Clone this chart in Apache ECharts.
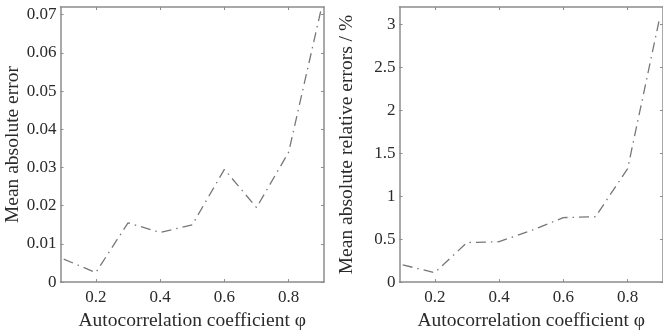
<!DOCTYPE html>
<html>
<head>
<meta charset="utf-8">
<script src="https://cdn.jsdelivr.net/npm/echarts@6/dist/echarts.min.js"></script>
<style>
  html, body { margin: 0; padding: 0; background: #fff; }
  #chart { width: 663px; height: 336px; }
</style>
</head>
<body>
<div id="chart"></div>
<script>
const phi = [0.1, 0.2, 0.3, 0.4, 0.5, 0.6, 0.7, 0.8, 0.9];
const mae = [0.006, 0.0025, 0.0155, 0.013, 0.015, 0.0295, 0.0195, 0.034, 0.071];
const mare = [0.2, 0.11, 0.46, 0.47, 0.6, 0.75, 0.76, 1.32, 3.08];

const xTicks = [0.2, 0.4, 0.6, 0.8];
const maeTicks = [0, 0.01, 0.02, 0.03, 0.04, 0.05, 0.06, 0.07];
const mareTicks = [0, 0.5, 1, 1.5, 2, 2.5, 3];

const xName = 'Autocorrelation coefficient φ';
const maeName = 'Mean absolute error';
const mareName = 'Mean absolute relative errors / %';

const FONT = 'Liberation Serif';
const AXIS_COLOR = '#8c8c8c';
const TEXT_COLOR = '#2a2a2a';

const chart = echarts.init(document.getElementById('chart'));

// box style axis: line + inward ticks
const boxLine = { show: true, onZero: false, lineStyle: { color: AXIS_COLOR, width: 1.5 } };
const tick = (vals) => ({ show: true, inside: true, length: 3, customValues: vals, lineStyle: { color: AXIS_COLOR, width: 1 } });

const xAxes = [];
const yAxes = [];
const series = [];
const panels = [
  { data: mae, yMax: 0.072, yTicks: maeTicks, yName: maeName, nameGap: 33 },
  { data: mare, yMax: 3.2, yTicks: mareTicks, yName: mareName, nameGap: 43 }
];

panels.forEach((p, i) => {
  xAxes.push({
    type: 'value', gridIndex: i, position: 'bottom',
    min: 0.09, max: 0.91,
    name: xName, nameLocation: 'middle', nameGap: 20,
    nameTextStyle: { fontFamily: FONT, fontSize: 19.5, color: TEXT_COLOR },
    axisLine: boxLine, axisTick: tick(xTicks),
    axisLabel: { customValues: xTicks, fontFamily: FONT, fontSize: 17, color: TEXT_COLOR, margin: 7 },
    splitLine: { show: false }
  });
  xAxes.push({
    type: 'value', gridIndex: i, position: 'top',
    min: 0.09, max: 0.91,
    axisLine: boxLine, axisTick: tick(xTicks),
    axisLabel: { show: false }, splitLine: { show: false }
  });
  yAxes.push({
    type: 'value', gridIndex: i, position: 'left',
    min: 0, max: p.yMax,
    name: p.yName, nameLocation: 'middle', nameGap: p.nameGap,
    nameTextStyle: { fontFamily: FONT, fontSize: 19.5, color: TEXT_COLOR },
    axisLine: boxLine, axisTick: tick(p.yTicks),
    axisLabel: { customValues: p.yTicks, fontFamily: FONT, fontSize: 17, color: TEXT_COLOR, margin: 4 },
    splitLine: { show: false }
  });
  yAxes.push({
    type: 'value', gridIndex: i, position: 'right',
    min: 0, max: p.yMax,
    axisLine: boxLine, axisTick: tick(p.yTicks),
    axisLabel: { show: false }, splitLine: { show: false }
  });
  series.push({
    type: 'line',
    xAxisIndex: i * 2, yAxisIndex: i * 2,
    data: phi.map((x, k) => [x, p.data[k]]),
    symbol: 'none',
    lineStyle: { color: '#777', width: 1.3, type: [10, 5, 1.5, 5] },
    silent: true
  });
});

chart.setOption({
  animation: false,
  grid: [
    { left: 60.5, top: 7, width: 263.5, height: 280 },
    { left: 399.5, top: 7, width: 264.5, height: 280.5 }
  ],
  xAxis: xAxes,
  yAxis: yAxes,
  series: series
});
</script>
</body>
</html>
